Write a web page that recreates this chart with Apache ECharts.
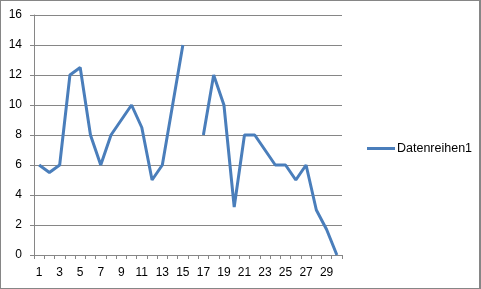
<!DOCTYPE html>
<html>
<head>
<meta charset="utf-8">
<script src="https://cdn.jsdelivr.net/npm/echarts@6/dist/echarts.min.js"></script>
<style>
html,body{margin:0;padding:0;background:#fff;}
#chart{width:481px;height:289px;box-sizing:border-box;border:1px solid #868686;border-right-width:2px;}
</style>
</head>
<body>
<div id="chart"></div>
<script>
const categories = ['1','2','3','4','5','6','7','8','9','10','11','12','13','14','15','16','17','18','19','20','21','22','23','24','25','26','27','28','29','30'];
const seriesName = 'Datenreihen1';
const values = [6, 5.5, 6, 12, 12.5, 8, 6, 8, 9, 10, 8.5, 5, 6, 10, 14, null, 8, 12, 10, 3.2, 8, 8, 7, 6, 6, 5, 6, 3, 1.7, 0];
const yTicks = {min: 0, max: 16, interval: 2};

const chart = echarts.init(document.getElementById('chart'), null, {renderer: 'canvas'});
const font = 'Liberation Sans';
chart.setOption({
  animation: false,
  grid: {left: 33, top: 14, width: 308, height: 240, containLabel: false},
  legend: {
    data: [{name: seriesName, icon: 'rect'}],
    left: 361, top: 136,
    itemWidth: 28, itemHeight: 3,
    textStyle: {fontFamily: font, fontSize: 12.5, color: '#000', padding: [0,0,0,-3]}
  },
  xAxis: {
    type: 'category',
    data: categories,
    boundaryGap: true,
    axisLine: {lineStyle: {color: '#868686', width: 1}},
    axisTick: {show: true, interval: 0, length: 4, lineStyle: {color: '#868686'}},
    axisLabel: {interval: 1, margin: 12, fontFamily: font, fontSize: 12, color: '#000'},
    splitLine: {show: false}
  },
  yAxis: {
    type: 'value',
    min: yTicks.min, max: yTicks.max, interval: yTicks.interval,
    axisLine: {show: true, lineStyle: {color: '#868686', width: 1}},
    axisTick: {show: true, length: 4, lineStyle: {color: '#868686'}},
    axisLabel: {margin: 12, fontFamily: font, fontSize: 12, color: '#000'},
    splitLine: {show: true, lineStyle: {color: '#868686', width: 1}}
  },
  series: [{
    name: seriesName,
    type: 'line',
    data: values,
    symbol: 'none',
    connectNulls: false,
    lineStyle: {color: '#4a7ebb', width: 3},
    itemStyle: {color: '#4a7ebb'}
  }]
});
</script>
</body>
</html>
